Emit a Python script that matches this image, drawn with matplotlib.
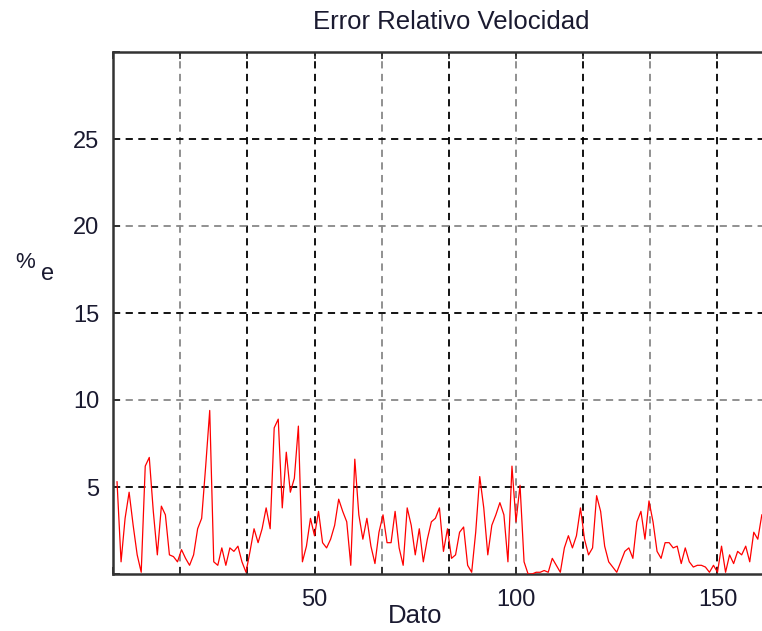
import matplotlib
matplotlib.use("Agg")
import matplotlib.pyplot as plt
import numpy as np
from matplotlib.ticker import FixedLocator, FuncFormatter

plt.rcParams['font.family'] = ['Liberation Sans', 'DejaVu Sans']

title = "Error Relativo Velocidad"
xlabel = "Dato"
ylabel_main = "%"
ylabel_sub = "e"

# Relative error values (index 1..161)
error_pct = [
    5.3, 0.7, 3.2, 4.7, 2.8, 1.1, 0.1, 6.2, 6.7, 3.6,
    1.1, 3.9, 3.4, 1.1, 1.0, 0.7, 1.4, 0.9, 0.5, 1.1,
    2.6, 3.2, 6.2, 9.4, 0.7, 0.5, 1.5, 0.5, 1.5, 1.3,
    1.6, 0.7, 0.1, 1.3, 2.6, 1.8, 2.6, 3.8, 2.6, 8.4,
    8.9, 3.8, 7.0, 4.7, 5.5, 8.5, 0.7, 1.6, 3.2, 2.2,
    3.6, 1.8, 1.5, 2.0, 2.8, 4.3, 3.6, 3.0, 0.5, 6.6,
    3.4, 2.0, 3.2, 1.6, 0.6, 2.4, 3.4, 1.8, 1.8, 3.6,
    1.5, 0.5, 3.8, 2.8, 1.1, 2.6, 0.7, 2.0, 3.0, 3.2,
    3.8, 1.3, 2.6, 0.9, 1.1, 2.4, 2.7, 0.5, 0.1, 2.4,
    5.6, 3.8, 1.1, 2.8, 3.4, 4.1, 3.4, 0.7, 6.2, 3.0,
    5.1, 0.7, 0.0, 0.0, 0.1, 0.1, 0.2, 0.1, 0.9, 0.5,
    0.1, 1.5, 2.2, 1.5, 2.2, 3.8, 2.0, 1.1, 1.5, 4.5,
    3.6, 1.6, 0.7, 0.4, 0.1, 0.7, 1.3, 1.5, 0.9, 3.0,
    3.6, 2.0, 4.2, 3.0, 1.3, 0.9, 1.8, 1.8, 1.5, 1.6,
    0.6, 1.5, 0.7, 0.4, 0.5, 0.5, 0.4, 0.1, 0.5, 0.1,
    1.6, 0.1, 1.1, 0.6, 1.3, 1.1, 1.6, 0.7, 2.4, 2.0,
    3.4,
]
x_index = list(range(1, len(error_pct) + 1))

x_ticks = [k * 50 / 3 for k in range(0, 11)]
x_labeled = [50, 100, 150]
y_ticks = [0, 5, 10, 15, 20, 25, 30]
y_labeled = [5, 10, 15, 20, 25]

W, H = 762, 631
fig = plt.figure(figsize=(W / 100, H / 100), dpi=100)
fig.patch.set_facecolor('white')

x0, x1 = 0, 175
ax_left = 113 / W
ax_bottom = (H - 574) / H
ax_height = (574 - 52) / H
ax_width = (x1 - x0) * 4.03 / W
ax = fig.add_axes([ax_left, ax_bottom, ax_width, ax_height])

ax.set_xlim(x0, x1)
ax.set_ylim(0, 30)

# Grid lines (alternating dark / gray dashed)
vcolors = ['#000000', '#888888', '#000000', '#000000', '#888888', '#000000',
           '#888888', '#000000', '#888888', '#000000', '#888888']
for k, xv in enumerate(x_ticks):
    if 0 < xv < x1:
        ax.axvline(xv, color=vcolors[k % len(vcolors)], lw=1.3,
                   dashes=(4, 3), zorder=1)
for yv in y_labeled:
    c = '#000000' if (yv // 5) % 2 == 1 else '#888888'
    ax.axhline(yv, color=c, lw=1.3, dashes=(4, 3), zorder=1)

ax.plot(x_index, error_pct, color='#ff0000', lw=0.9, zorder=3)

ax.xaxis.set_major_locator(FixedLocator(x_ticks))
ax.yaxis.set_major_locator(FixedLocator(y_ticks))
ax.xaxis.set_major_formatter(FuncFormatter(
    lambda v, p: f"{int(round(v))}" if any(abs(v - t) < 1e-6 for t in x_labeled) else ""))
ax.yaxis.set_major_formatter(FuncFormatter(
    lambda v, p: f"{int(round(v))}" if any(abs(v - t) < 1e-6 for t in y_labeled) else ""))

ax.tick_params(axis='both', direction='in', length=5, width=1.2, color='#222222',
               labelsize=17, labelcolor='#1a1a30', top=True, right=False)
ax.tick_params(axis='x', pad=11)
ax.tick_params(axis='y', pad=10)

for s in ['top', 'left', 'bottom']:
    ax.spines[s].set_color('#333333')
    ax.spines[s].set_linewidth(1.8)
ax.spines['right'].set_visible(False)

fig.text(451 / W, 1 - 22 / H, title, ha='center', va='center',
         fontsize=18.5, color='#1a1a30')
fig.text(415 / W, 1 - 616 / H, xlabel, ha='center', va='center',
         fontsize=18.5, color='#1a1a30')
fig.text(25 / W, 1 - 263 / H, ylabel_main, ha='center', va='center',
         fontsize=16, color='#1a1a30')
fig.text(48 / W, 1 - 274 / H, ylabel_sub, ha='center', va='center',
         fontsize=17, color='#1a1a30')

fig.savefig("out.png", dpi=100, facecolor='white')
